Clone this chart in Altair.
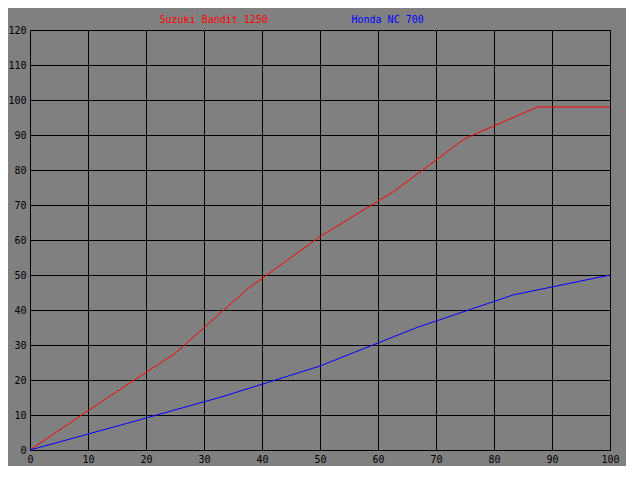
import altair as alt
import pandas as pd

# Data
suzuki_x = [0, 12.5, 25, 37.5, 50, 62.5, 75, 87.5, 100]
suzuki_y = [0, 14, 27.6, 46, 61, 73.6, 89, 98, 98]
honda_x = [0, 16.7, 33.3, 50, 66.7, 83.3, 100]
honda_y = [0, 7.6, 15.3, 24, 35, 44.3, 50]
series_names = ["Suzuki Bandit 1250", "Honda NC 700"]
series_colors = ["#ff0000", "#0000ff"]
x_ticks = list(range(0, 101, 10))
y_ticks = list(range(0, 121, 10))

df = pd.concat([
    pd.DataFrame({"x": suzuki_x, "y": suzuki_y, "series": series_names[0]}),
    pd.DataFrame({"x": honda_x, "y": honda_y, "series": series_names[1]}),
])

FONT = "DejaVu Sans Mono"

xs = alt.X("x:Q", scale=alt.Scale(domain=[0, 100], nice=False, zero=False),
           axis=alt.Axis(values=x_ticks, title=None, grid=True, gridColor="black",
                         gridOpacity=1, gridWidth=1, ticks=False, domain=True,
                         domainColor="black", labelFont=FONT, labelFontSize=10,
                         labelColor="black", labelPadding=4, labelFlush=False,
                         labelOverlap=False))
ys = alt.Y("y:Q", scale=alt.Scale(domain=[0, 120], nice=False, zero=False),
           axis=alt.Axis(values=y_ticks, title=None, grid=True, gridColor="black",
                         gridOpacity=1, gridWidth=1, ticks=False, domain=True,
                         domainColor="black", labelFont=FONT, labelFontSize=10,
                         labelColor="black", labelPadding=4, labelFlush=False,
                         labelOverlap=False))

lines = alt.Chart(df).mark_line(strokeWidth=1, interpolate="linear").encode(
    x=xs, y=ys,
    color=alt.Color("series:N", scale=alt.Scale(domain=series_names, range=series_colors),
                    legend=None),
    detail="series:N",
)

leg_df = pd.DataFrame({"name": series_names})
leg1 = alt.Chart(leg_df).transform_filter(alt.datum.name == series_names[0]).mark_text(
    align="left", baseline="alphabetic", font=FONT, fontSize=10, color=series_colors[0]
).encode(text="name:N", x=alt.value(129.5), y=alt.value(-7.5))
leg2 = alt.Chart(leg_df).transform_filter(alt.datum.name == series_names[1]).mark_text(
    align="left", baseline="alphabetic", font=FONT, fontSize=10, color=series_colors[1]
).encode(text="name:N", x=alt.value(321.5), y=alt.value(-7.5))

chart = alt.layer(lines, leg1, leg2).properties(
    width=580, height=420,
    background="#808080",
    padding={"left": 22, "top": 22, "right": 16, "bottom": 16},
    autosize=alt.AutoSizeParams(type="none"),
).configure_view(stroke="black", strokeWidth=1)

chart.save("out.html", embed_options={"renderer": "svg", "actions": False})
